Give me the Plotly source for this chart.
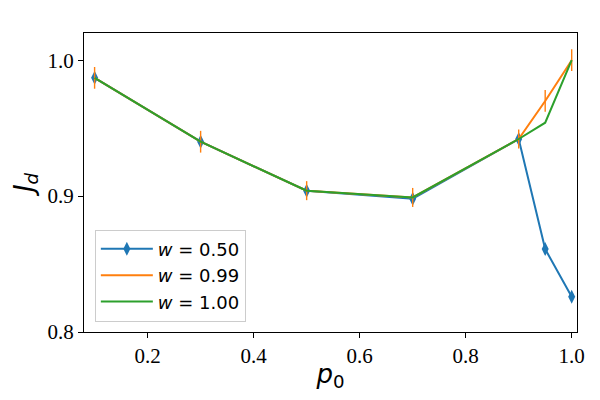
import plotly.graph_objects as go

p0 = [0.1, 0.3, 0.5, 0.7, 0.9, 0.95, 1.0]
jd_w050 = [0.987, 0.940, 0.904, 0.898, 0.942, 0.861, 0.826]
jd_w099 = [0.987, 0.940, 0.904, 0.899, 0.942, 0.970, 1.000]
err_w099 = [0.008, 0.008, 0.007, 0.007, 0.007, 0.008, 0.008]
jd_w100 = [0.987, 0.940, 0.904, 0.899, 0.942, 0.954, 1.000]

x_ticks = [0.2, 0.4, 0.6, 0.8, 1.0]
y_ticks = [0.8, 0.9, 1.0]

fig = go.Figure()
fig.add_trace(go.Scatter(
    x=p0, y=jd_w050, mode="lines+markers",
    name="<i>w</i> = 0.50",
    line=dict(color="#1f77b4", width=2),
    marker=dict(symbol="diamond-tall", size=10, color="#1f77b4"),
))
fig.add_trace(go.Scatter(
    x=p0, y=jd_w099, mode="lines",
    name="<i>w</i> = 0.99",
    line=dict(color="#ff7f0e", width=2),
    error_y=dict(type="data", array=err_w099, visible=True,
                 color="#ff7f0e", thickness=1.4, width=0),
))
fig.add_trace(go.Scatter(
    x=p0, y=jd_w100, mode="lines",
    name="<i>w</i> = 1.00",
    line=dict(color="#2ca02c", width=2),
))

axis_common = dict(
    showline=True, linecolor="black", linewidth=1, mirror=True,
    ticks="outside", ticklen=5, tickcolor="black", tickwidth=1,
    showgrid=False, zeroline=False, automargin=False,
    tickfont=dict(family="Liberation Serif", size=21, color="black"),
)

# the page body has an 8px margin, so the figure is sized and offset to fit
fig.update_layout(
    width=584, height=384,
    margin=dict(l=76, r=15, t=25, b=60),
    plot_bgcolor="white", paper_bgcolor="white",
    showlegend=True,
    legend=dict(
        x=0.022, y=0.035, xanchor="left", yanchor="bottom",
        bgcolor="rgba(255,255,255,0.8)", bordercolor="#cccccc", borderwidth=1,
        font=dict(family="DejaVu Sans", size=18, color="black"),
        tracegroupgap=0, itemwidth=52,
    ),
    xaxis=dict(
        range=[0.08, 1.01], tickvals=x_ticks,
        ticktext=[f"{v:.1f}" for v in x_ticks],
        title=dict(text="<i>p</i><sub>0</sub>",
                   font=dict(family="DejaVu Sans", size=26, color="black"),
                   standoff=4),
        **axis_common,
    ),
    yaxis=dict(
        range=[0.8, 1.02], tickvals=y_ticks,
        ticktext=[f"{v:.1f}" for v in y_ticks],
        title=dict(text="<i>J</i><sub><i>d</i></sub>",
                   font=dict(family="DejaVu Sans", size=26, color="black"),
                   standoff=6),
        **axis_common,
    ),
)

fig.write_html("out.html")
